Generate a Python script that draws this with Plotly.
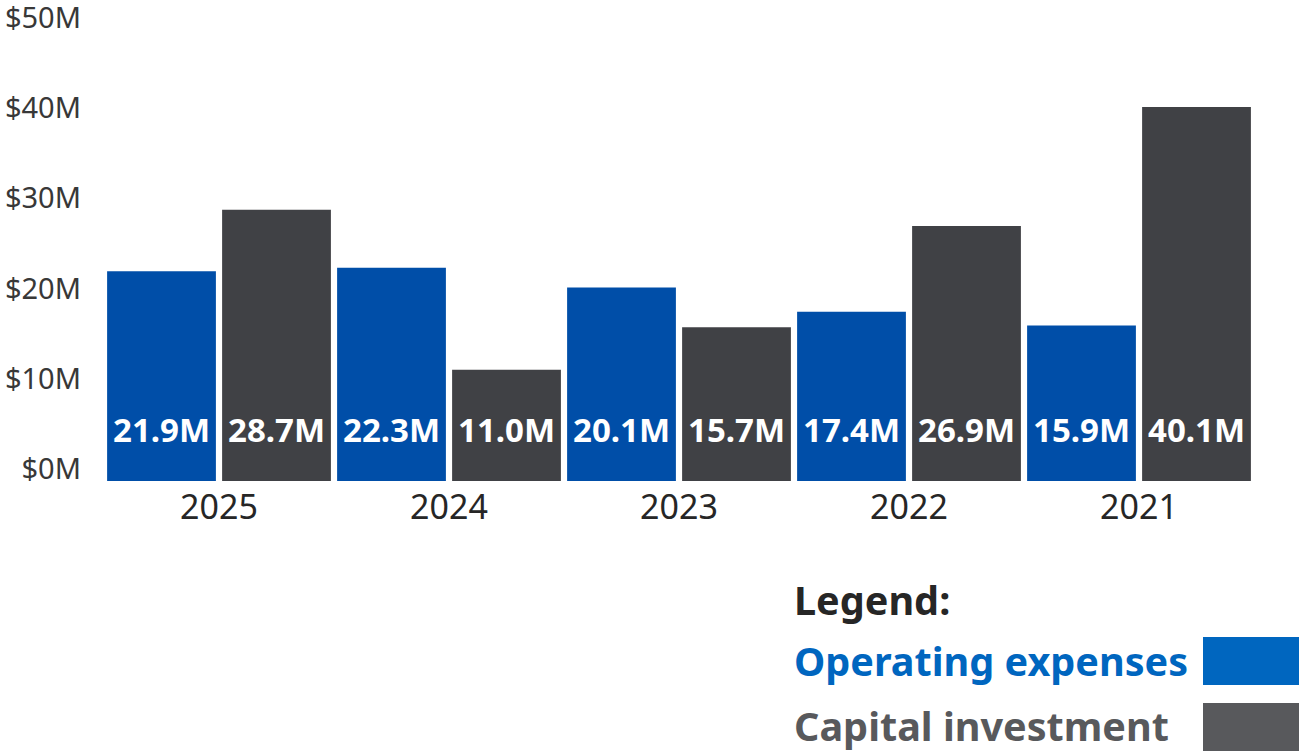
import plotly.graph_objects as go

# ---- data -------------------------------------------------------------
years = ["2025", "2024", "2023", "2022", "2021"]
operating_expenses = [21.9, 22.3, 20.1, 17.4, 15.9]   # $M
capital_investment = [28.7, 11.0, 15.7, 26.9, 40.1]   # $M
y_ticks = [0, 10, 20, 30, 40, 50]
y_tick_labels = ["$0M", "$10M", "$20M", "$30M", "$40M", "$50M"]

# ---- styling ----------------------------------------------------------
BLUE_BAR = "#004EA8"
GREY_BAR = "#404145"
BLUE_KEY = "#0066BF"
GREY_KEY = "#58595C"
TEXT = "#262626"
FONT = "Noto Sans"

W, H = 1299, 752
ML, MR, MT, MB = 104, 45, 11, 271
PLOT_W = W - ML - MR
PLOT_H = H - MT - MB

# bars hang a little below the zero line, as in the printed report
Y_MIN, Y_MAX = -1.33, 50.72


def paper_x(px):
    return (px - ML) / PLOT_W


def paper_y(py):
    return (H - MB - py) / PLOT_H


fig = go.Figure()
for name, vals, col in [
    ("Operating expenses", operating_expenses, BLUE_BAR),
    ("Capital investment", capital_investment, GREY_BAR),
]:
    fig.add_trace(go.Bar(
        name=name,
        x=years,
        y=[v - Y_MIN for v in vals],
        base=Y_MIN,
        marker=dict(color=col, line=dict(width=0)),
        customdata=vals,
        hovertemplate="%{x}: $%{customdata}M<extra>" + name + "</extra>",
        showlegend=False,
    ))

# value labels near the foot of each bar (x given as category index)
slot_px = PLOT_W / len(years) / 2
annotations = []
for i in range(len(years)):
    for vals, shift in [(operating_expenses, -slot_px / 2), (capital_investment, slot_px / 2)]:
        annotations.append(dict(
            x=i, y=0, xref="x", yref="y",
            text=f"<b>{vals[i]:.1f}M</b>",
            showarrow=False, xshift=shift, yshift=39,
            font=dict(family=FONT, size=33, color="white"),
        ))

# custom key: label text with a swatch to its right
key_font = 39.6
annotations += [
    dict(x=paper_x(792), y=paper_y(600), xref="paper", yref="paper",
         xanchor="left", yanchor="middle", showarrow=False,
         text="<b>Legend:</b>", font=dict(family=FONT, size=key_font, color=TEXT)),
    dict(x=paper_x(792), y=paper_y(661), xref="paper", yref="paper",
         xanchor="left", yanchor="middle", showarrow=False,
         text="<b>Operating expenses</b>", font=dict(family=FONT, size=key_font, color=BLUE_KEY)),
    dict(x=paper_x(792), y=paper_y(726), xref="paper", yref="paper",
         xanchor="left", yanchor="middle", showarrow=False,
         text="<b>Capital investment</b>", font=dict(family=FONT, size=key_font, color=GREY_KEY)),
]
shapes = [
    dict(type="rect", xref="paper", yref="paper", line=dict(width=0),
         x0=paper_x(1203), x1=paper_x(1299), y0=paper_y(685), y1=paper_y(637),
         fillcolor=BLUE_KEY),
    dict(type="rect", xref="paper", yref="paper", line=dict(width=0),
         x0=paper_x(1203), x1=paper_x(1299), y0=paper_y(751), y1=paper_y(703),
         fillcolor=GREY_KEY),
]

fig.update_layout(
    width=W, height=H,
    margin=dict(l=ML, r=MR, t=MT, b=MB, pad=0),
    paper_bgcolor="white", plot_bgcolor="white",
    barmode="group", bargap=0.0, bargroupgap=0.054,
    font=dict(family=FONT, color=TEXT),
    annotations=annotations, shapes=shapes,
    xaxis=dict(
        type="category", range=[-0.5, len(years) - 0.5], automargin=False,
        showgrid=False, zeroline=False, showline=False,
        ticks="", tickfont=dict(family=FONT, size=34, color=TEXT),
        ticklabelstandoff=3,
    ),
    yaxis=dict(
        range=[Y_MIN, Y_MAX], tickvals=y_ticks, ticktext=y_tick_labels,
        automargin=False,
        showgrid=False, zeroline=False, showline=False, ticks="",
        tickfont=dict(family=FONT, size=29, color="#383838"),
        ticklabelstandoff=22, ticklabeloverflow="allow",
    ),
)

fig.write_html("out.html")
